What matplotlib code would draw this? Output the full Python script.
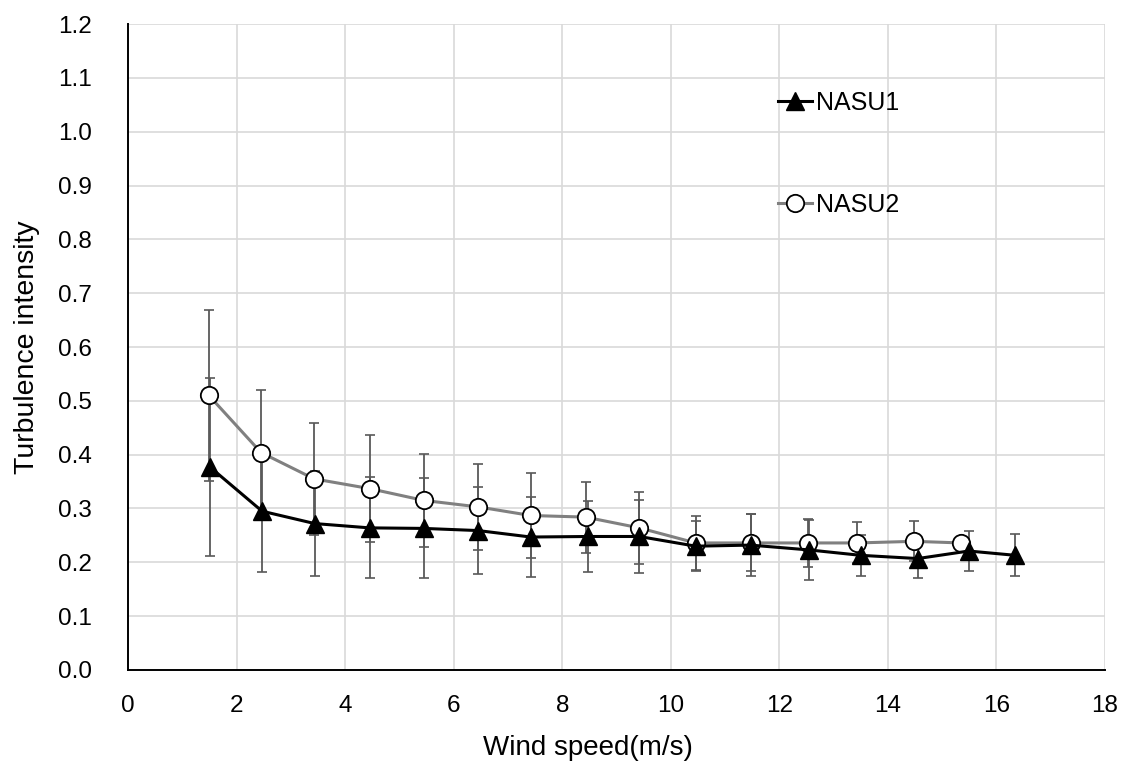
import matplotlib.pyplot as plt
import numpy as np

plt.rcParams['font.family'] = ['Liberation Sans', 'DejaVu Sans']

# NASU1 (black triangles)
x1 = [1.51, 2.47, 3.44, 4.45, 5.45, 6.45, 7.42, 8.48, 9.42, 10.46, 11.47, 12.55, 13.5, 14.55, 15.49, 16.35]
y1 = [0.377, 0.295, 0.272, 0.264, 0.263, 0.259, 0.247, 0.248, 0.248, 0.230, 0.232, 0.223, 0.213, 0.207, 0.221, 0.213]
e1 = [0.165, 0.113, 0.097, 0.094, 0.093, 0.081, 0.074, 0.066, 0.067, 0.046, 0.058, 0.055, 0.038, 0.037, 0.038, 0.039]

# NASU2 (white circles)
x2 = [1.49, 2.45, 3.43, 4.45, 5.45, 6.45, 7.42, 8.43, 9.42, 10.46, 11.47, 12.52, 13.44, 14.48, 15.35]
y2 = [0.510, 0.404, 0.355, 0.337, 0.315, 0.303, 0.287, 0.284, 0.264, 0.236, 0.236, 0.236, 0.236, 0.239, 0.236]
e2 = [0.159, 0.117, 0.104, 0.099, 0.087, 0.080, 0.079, 0.066, 0.067, 0.050, 0.053, 0.044, 0.038, 0.037, 0.010]

xticks = np.arange(0, 19, 2)
yticks = np.arange(0, 1.21, 0.1)

fig = plt.figure(figsize=(11.21, 7.65), dpi=100)
ax = fig.add_axes([0.1142, 0.1242, 0.8715, 0.8444])

ax.errorbar(x2, y2, yerr=e2, fmt='none', ecolor='#595959', elinewidth=1.3, capsize=3.5, capthick=1.2, zorder=2)
ax.errorbar(x1, y1, yerr=e1, fmt='none', ecolor='#595959', elinewidth=1.3, capsize=3.5, capthick=1.2, zorder=2)

ax.plot(x2, y2, color='#808080', lw=2.2, marker='o', ms=12.5, mfc='white', mec='black', mew=1.3, label='NASU2', zorder=3)
ax.plot(x1, y1, color='black', lw=2.2, marker='^', ms=12.5, mfc='black', mec='black', label='NASU1', zorder=4)

ax.set_xlim(0, 18)
ax.set_ylim(0, 1.2)
ax.set_xticks(xticks)
ax.set_yticks(yticks)
ax.set_yticklabels([f'{v:.1f}' for v in yticks])
ax.tick_params(labelsize=17.5, length=0)
ax.tick_params(axis='x', pad=18)
ax.tick_params(axis='y', pad=26)
ax.grid(True, color='#d9d9d9', lw=1.2)
ax.set_axisbelow(True)
for s in ['top', 'right']:
    ax.spines[s].set_visible(False)
for s in ['left', 'bottom']:
    ax.spines[s].set_color('black')
    ax.spines[s].set_linewidth(1.4)

ax.set_xlabel('Wind speed(m/s)', fontsize=20, labelpad=13)
ax.xaxis.label.set_x(0.471)
ax.set_ylabel('Turbulence intensity', fontsize=20.5, labelpad=13)

h, l = ax.get_legend_handles_labels()
ax.legend(h[::-1], l[::-1], loc='upper left', bbox_to_anchor=(0.665, 0.896), frameon=False,
          borderpad=0, borderaxespad=0, fontsize=18, handlelength=1.36, handletextpad=0.16,
          labelspacing=3.1)

fig.savefig('out.png', dpi=100)
